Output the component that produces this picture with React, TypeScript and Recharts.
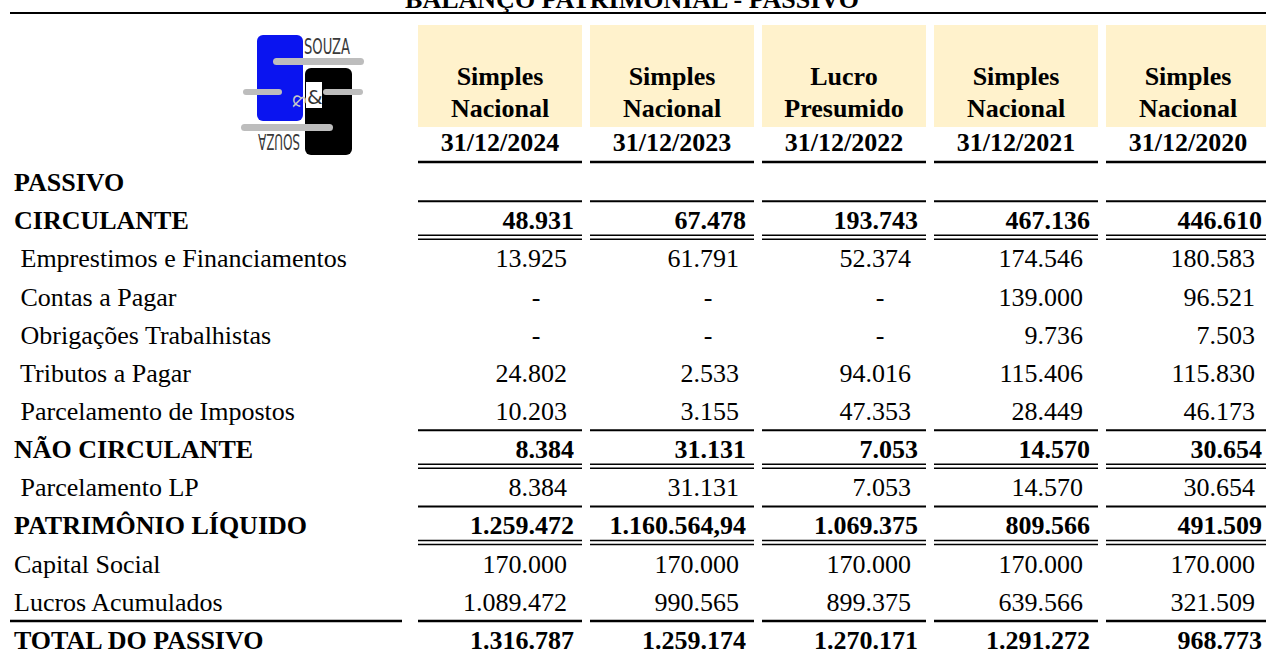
import { ScatterChart, Scatter, XAxis, YAxis, Customized } from 'recharts'

// balanço patrimonial - passivo, one column per year-end
const periods = ['31/12/2024', '31/12/2023', '31/12/2022', '31/12/2021', '31/12/2020']
const regimes = ['Simples Nacional', 'Simples Nacional', 'Lucro Presumido', 'Simples Nacional', 'Simples Nacional']

const rowLabels = [
  'PASSIVO',
  'CIRCULANTE',
  ' Emprestimos e Financiamentos',
  ' Contas a Pagar',
  ' Obrigações Trabalhistas',
  ' Tributos a Pagar',
  ' Parcelamento de Impostos',
  'NÃO CIRCULANTE',
  ' Parcelamento LP',
  'PATRIMÔNIO LÍQUIDO',
  'Capital Social',
  'Lucros Acumulados',
  'TOTAL DO PASSIVO',
]
const totalRows = ['PASSIVO', 'CIRCULANTE', 'NÃO CIRCULANTE', 'PATRIMÔNIO LÍQUIDO', 'TOTAL DO PASSIVO']

// 0 shows as "-", null = no value in that row
const v2024 = [null, 48931, 13925, 0, 0, 24802, 10203, 8384, 8384, 1259472, 170000, 1089472, 1316787]
const v2023 = [null, 67478, 61791, 0, 0, 2533, 3155, 31131, 31131, 1160564.94, 170000, 990565, 1259174]
const v2022 = [null, 193743, 52374, 0, 0, 94016, 47353, 7053, 7053, 1069375, 170000, 899375, 1270171]
const v2021 = [null, 467136, 174546, 139000, 9736, 115406, 28449, 14570, 14570, 809566, 170000, 639566, 1291272]
const v2020 = [null, 446610, 180583, 96521, 7503, 115830, 46173, 30654, 30654, 491509, 170000, 321509, 968773]

const valuesByPeriod = [v2024, v2023, v2022, v2021, v2020]

const CHART_W = 1274
const CHART_H = 660
const LABEL_W = 414
const HEAD_H = 164
const BAND = (CHART_W - LABEL_W) / periods.length
const FONT = '"Liberation Serif", "Times New Roman", serif'
const FS = 26

function fmt(v: number) {
  if (v === 0) return '-'
  const int = Math.floor(v)
  const dec = Math.round((v - int) * 100)
  const s = String(int).replace(/\B(?=(\d{3})+(?!\d))/g, '.')
  return dec ? s + ',' + String(dec).padStart(2, '0') : s
}

const cells = periods.flatMap((p, c) =>
  rowLabels.map((r, i) => ({ period: p, row: r, value: valuesByPeriod[c][i] })),
)

function HeaderTick(props: any) {
  const { x, y, payload } = props
  const i = periods.indexOf(payload.value)
  const [l1, l2] = regimes[i].split(' ')
  const left = x - BAND / 2 + 4
  const w = BAND - 8
  const txt = { textAnchor: 'middle' as const, fontWeight: 'bold', fontSize: FS, fontFamily: FONT, fill: '#000' }
  return (
    <g>
      <rect x={left} y={y - 139} width={w} height={102} fill="#FFF2CC" />
      <text x={x} y={y - 79} {...txt}>{l1}</text>
      <text x={x} y={y - 47} {...txt}>{l2}</text>
      <text x={x} y={y - 13} {...txt}>{payload.value}</text>
      <line x1={left} x2={left + w} y1={y - 2} y2={y - 2} stroke="#000" strokeWidth={2.5} />
    </g>
  )
}

function RowTick(props: any) {
  const { x, y, payload } = props
  const label: string = payload.value
  const bold = totalRows.includes(label)
  return (
    <g>
      {label === 'TOTAL DO PASSIVO' && (
        <line x1={x - 404} x2={x - 12} y1={y - 20} y2={y - 20} stroke="#000" strokeWidth={2.5} />
      )}
      <text
        x={x - 400}
        y={y + 8}
        fontSize={FS}
        fontFamily={FONT}
        fontWeight={bold ? 'bold' : 'normal'}
        fill="#000"
        xmlSpace="preserve"
        style={{ whiteSpace: 'pre' }}
      >
        {label}
      </text>
    </g>
  )
}

function ValueCell(props: any) {
  const { cx, cy, payload } = props
  const { value, row } = payload
  if (value == null || cx == null || cy == null) return <g />
  const bold = totalRows.includes(row)
  const left = cx - BAND / 2 + 4
  const right = cx + BAND / 2 - 4
  const isTotal = row === 'TOTAL DO PASSIVO'
  const text = fmt(value)
  const tx = text === '-' ? cx + BAND / 2 - 50 : cx + BAND / 2 - (bold ? 12 : 19)
  return (
    <g>
      {bold && <line x1={left} x2={right} y1={cy - 20} y2={cy - 20} stroke="#000" strokeWidth={isTotal ? 2.5 : 2} />}
      {bold && !isTotal && (
        <>
          <line x1={left} x2={right} y1={cy + 14} y2={cy + 14} stroke="#000" strokeWidth={1.5} />
          <line x1={left} x2={right} y1={cy + 18} y2={cy + 18} stroke="#000" strokeWidth={1.5} />
        </>
      )}
      <text
        x={tx}
        y={cy + 8}
        textAnchor={text === '-' ? 'middle' : 'end'}
        fontSize={FS}
        fontFamily={FONT}
        fontWeight={bold ? 'bold' : 'normal'}
        fill="#000"
      >
        {text}
      </text>
    </g>
  )
}

function TitleBlock() {
  return (
    <g>
      <text x={632} y={8} textAnchor="middle" fontSize={26} fontWeight="bold" fontFamily={FONT} fill="#000">
        BALANÇO PATRIMONIAL - PASSIVO
      </text>
      <line x1={10} x2={CHART_W} y1={13} y2={13} stroke="#000" strokeWidth={2} />
      {/* logo */}
      <rect x={257} y={35} width={46} height={86} rx={6} fill="#0A14F0" />
      <rect x={305} y={68} width={47} height={87} rx={6} fill="#000" />
      <rect x={306} y={82} width={16} height={26} fill="#fff" />
      <rect x={273} y={58} width={91} height={7} rx={3.5} fill="#BDBDBD" />
      <rect x={243} y={89} width={39} height={6} rx={3} fill="#BDBDBD" />
      <rect x={323} y={89} width={40} height={6} rx={3} fill="#BDBDBD" />
      <rect x={241} y={124} width={92} height={7} rx={3.5} fill="#BDBDBD" />
      <text x={304} y={54} fontSize={21} fontFamily="'DejaVu Sans Condensed', 'Liberation Sans Narrow', sans-serif" fill="#3a3a3a" textLength={46} lengthAdjust="spacingAndGlyphs">
        SOUZA
      </text>
      <text x={307} y={104} fontSize={20} fontFamily="'DejaVu Sans', sans-serif" fill="#333">
        &amp;
      </text>
      <text
        transform="translate(293 101) rotate(90)"
        fontSize={18}
        fontFamily="'DejaVu Sans', sans-serif"
        fill="#c8c8c8"
        textAnchor="middle"
      >
        &amp;
      </text>
      <text
        transform="translate(300 134) rotate(180)"
        fontSize={21}
        fontFamily="'DejaVu Sans Condensed', 'Liberation Sans Narrow', sans-serif"
        fill="#3a3a3a"
        textLength={42}
        lengthAdjust="spacingAndGlyphs"
      >
        SOUZA
      </text>
    </g>
  )
}

export default function App() {
  return (
    <div style={{ position: 'absolute', left: 0, top: 0, width: 1266, height: 659, overflow: 'hidden', background: '#fff' }}>
      <ScatterChart width={CHART_W} height={CHART_H} margin={{ top: 0, right: 0, bottom: 0, left: 0 }}>
        <XAxis
          dataKey="period"
          type="category"
          orientation="top"
          allowDuplicatedCategory={false}
          height={HEAD_H}
          axisLine={false}
          tickLine={false}
          tickSize={0}
          tickMargin={0}
          interval={0}
          tick={<HeaderTick />}
        />
        <YAxis
          dataKey="row"
          type="category"
          reversed
          allowDuplicatedCategory={false}
          width={LABEL_W}
          axisLine={false}
          tickLine={false}
          tickSize={0}
          tickMargin={0}
          interval={0}
          tick={<RowTick />}
        />
        <Scatter data={cells} isAnimationActive={false} shape={<ValueCell />} />
        <Customized component={TitleBlock} />
      </ScatterChart>
    </div>
  )
}
